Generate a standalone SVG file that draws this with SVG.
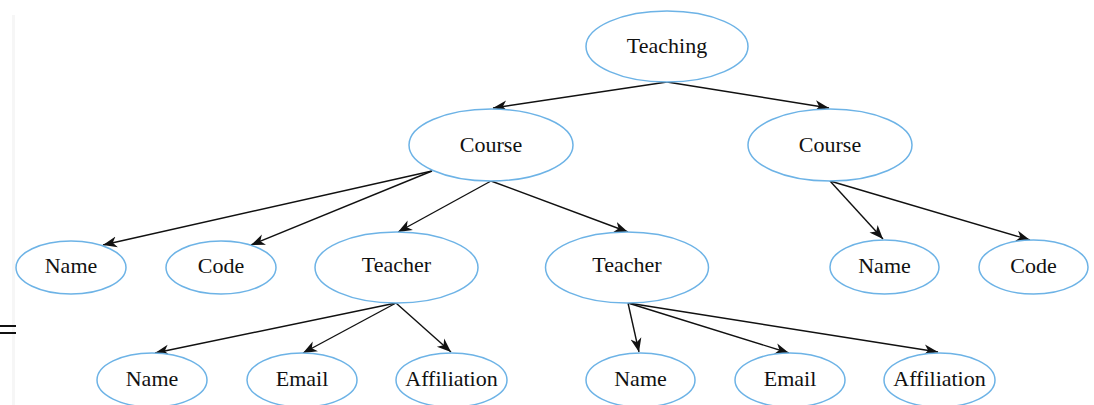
<svg xmlns="http://www.w3.org/2000/svg" width="1094" height="405" viewBox="0 0 1094 405">
<style>
.node ellipse{fill:#fff;stroke:#6db3e6;stroke-width:1.5}
.node text{font-family:"Liberation Serif","DejaVu Serif",serif;font-size:22px;fill:#111;text-anchor:middle}
.edges line{stroke:#111;stroke-width:1.4;marker-end:url(#arr)}
</style>
<defs>
<marker id="arr" markerUnits="userSpaceOnUse" markerWidth="15" markerHeight="13" viewBox="0 0 15 13" refX="14" refY="6.5" orient="auto">
<path d="M0,1 L14,6.5 L0,12 L4,6.5 z" fill="#111"/>
</marker>
</defs>
<rect width="1094" height="405" fill="#fff"/>
<rect x="12" y="15" width="3" height="390" fill="#f6f6f6"/>
<rect x="0" y="325" width="16" height="2" fill="#111"/>
<rect x="0" y="332" width="16" height="2" fill="#111"/>
<g class="edges">
<line x1="667" y1="82" x2="493" y2="108"/>
<line x1="667" y1="82" x2="829" y2="108"/>
<line x1="432" y1="171" x2="103" y2="245"/>
<line x1="432" y1="171" x2="251" y2="245"/>
<line x1="491" y1="181" x2="398" y2="232"/>
<line x1="491" y1="181" x2="628" y2="232"/>
<line x1="830" y1="181" x2="883" y2="239"/>
<line x1="830" y1="181" x2="1030" y2="240"/>
<line x1="396" y1="303" x2="155" y2="353"/>
<line x1="396" y1="303" x2="303" y2="353"/>
<line x1="396" y1="303" x2="451" y2="352"/>
<line x1="628" y1="303" x2="639" y2="352"/>
<line x1="628" y1="303" x2="789" y2="353"/>
<line x1="628" y1="303" x2="938" y2="352"/>
</g>
<g id="teaching" class="node"><ellipse cx="667" cy="46.5" rx="81" ry="35.5"/><text x="667" y="53">Teaching</text></g>
<g id="course1" class="node"><ellipse cx="491" cy="145" rx="82" ry="36"/><text x="491" y="152">Course</text></g>
<g id="course2" class="node"><ellipse cx="830" cy="145" rx="82" ry="36"/><text x="830" y="152">Course</text></g>
<g id="name1" class="node"><ellipse cx="71" cy="267.5" rx="55" ry="26.5"/><text x="71" y="273">Name</text></g>
<g id="code1" class="node"><ellipse cx="221" cy="267.5" rx="55" ry="26.5"/><text x="221" y="273">Code</text></g>
<g id="teacher1" class="node"><ellipse cx="396.5" cy="267.5" rx="81.5" ry="35.5"/><text x="396.5" y="272">Teacher</text></g>
<g id="teacher2" class="node"><ellipse cx="627" cy="267.5" rx="81.5" ry="35.5"/><text x="627" y="272">Teacher</text></g>
<g id="name2" class="node"><ellipse cx="884.5" cy="267" rx="54.5" ry="27"/><text x="884.5" y="273">Name</text></g>
<g id="code2" class="node"><ellipse cx="1033.5" cy="267" rx="54.5" ry="27"/><text x="1033.5" y="273">Code</text></g>
<g id="name3" class="node"><ellipse cx="152" cy="380" rx="55" ry="27"/><text x="152" y="386">Name</text></g>
<g id="email1" class="node"><ellipse cx="302" cy="380" rx="55" ry="27"/><text x="302" y="386">Email</text></g>
<g id="affil1" class="node"><ellipse cx="451.5" cy="380" rx="55.5" ry="27"/><text x="451.5" y="386">Affiliation</text></g>
<g id="name4" class="node"><ellipse cx="640.5" cy="380" rx="54.5" ry="27"/><text x="640.5" y="386">Name</text></g>
<g id="email2" class="node"><ellipse cx="790" cy="380" rx="55" ry="27"/><text x="790" y="386">Email</text></g>
<g id="affil2" class="node"><ellipse cx="939.5" cy="380" rx="55.5" ry="27"/><text x="939.5" y="386">Affiliation</text></g>
</svg>
